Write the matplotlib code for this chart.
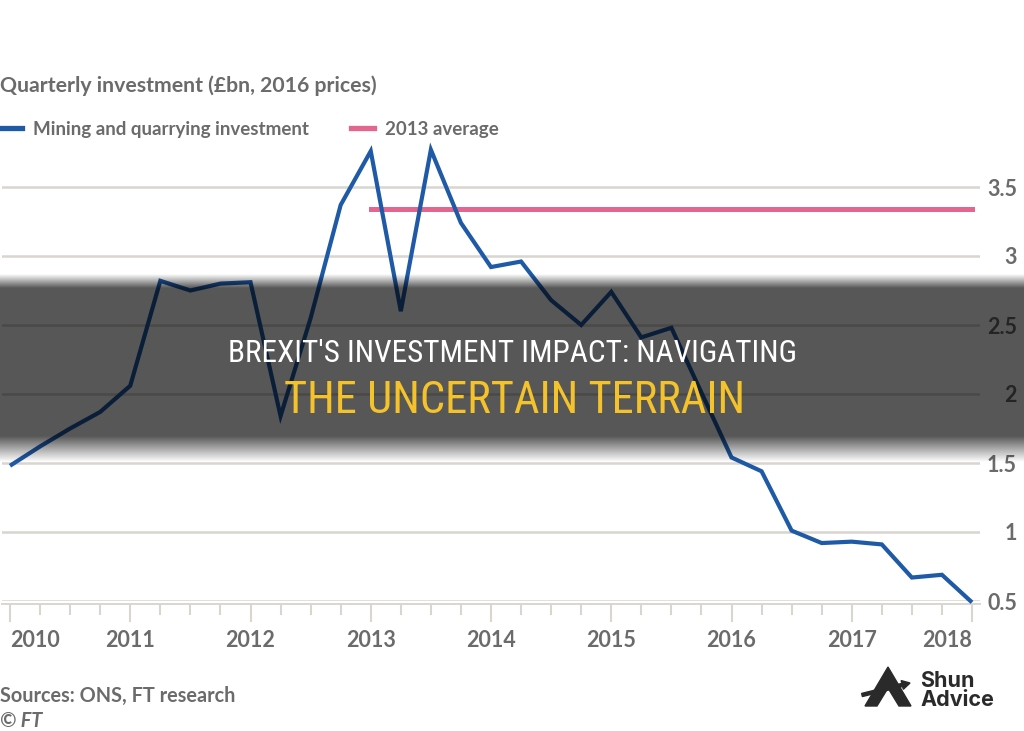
import numpy as np
import matplotlib
matplotlib.use("Agg")
import matplotlib.pyplot as plt
from matplotlib import font_manager as fm
from matplotlib.lines import Line2D
from matplotlib.patches import Polygon, FancyArrow

# ---------------- data ----------------
quarters = ["2010Q1", "2010Q2", "2010Q3", "2010Q4",
            "2011Q1", "2011Q2", "2011Q3", "2011Q4",
            "2012Q1", "2012Q2", "2012Q3", "2012Q4",
            "2013Q1", "2013Q2", "2013Q3", "2013Q4",
            "2014Q1", "2014Q2", "2014Q3", "2014Q4",
            "2015Q1", "2015Q2", "2015Q3", "2015Q4",
            "2016Q1", "2016Q2", "2016Q3", "2016Q4",
            "2017Q1", "2017Q2", "2017Q3", "2017Q4",
            "2018Q1"]
mining = [1.48, 1.62, 1.75, 1.87,
          2.06, 2.82, 2.75, 2.80,
          2.81, 1.84, 2.55, 3.37,
          3.76, 2.60, 3.77, 3.24,
          2.92, 2.96, 2.68, 2.50,
          2.74, 2.41, 2.48, 2.01,
          1.54, 1.44, 1.01, 0.92,
          0.93, 0.91, 0.67, 0.69,
          0.49]
avg_2013 = 3.34
avg_span = [2013.0, 2018.0]
year_labels = ["2010", "2011", "2012", "2013", "2014", "2015", "2016", "2017", "2018"]
y_ticks = [0.5, 1, 1.5, 2, 2.5, 3, 3.5]
y_labels = ["0.5", "1", "1.5", "2", "2.5", "3", "3.5"]

title = "Quarterly investment (£bn, 2016 prices)"
legend_labels = ["Mining and quarrying investment", "2013 average"]
source = "Sources: ONS, FT research"
credit = "© FT"
band_line1 = "BREXIT'S INVESTMENT IMPACT: NAVIGATING"
band_line2 = "THE UNCERTAIN TERRAIN"

x = [int(q[:4]) + (int(q[-1]) - 1) / 4 for q in quarters]
years = [int(y) for y in year_labels]

# ---------------- style ----------------
W, H = 1024, 731
BLUE = "#1f5aa6"
PINK = "#e3668f"
GRID = "#d9d5cf"
TXT = "#6b6b6b"
avail = {f.name for f in fm.fontManager.ttflist}
FONT = "Lato" if "Lato" in avail else "DejaVu Sans"
NARROW = next((f for f in ["Liberation Sans Narrow", "Roboto Condensed", "Open Sans Condensed"]
               if f in avail), None)

fig = plt.figure(figsize=(W / 100, H / 100), dpi=100)
fig.patch.set_facecolor("white")


def fy(py):
    return 1 - py / H


def fx(px):
    return px / W


# chart axes: x 2010.0 -> px 10, 2018.0 -> px 972 ; y 0.5 -> px 601, 3.5 -> px 187
ppu_x = (972 - 10) / 8.0
ppu_y = (601 - 187) / 3.0
ax_l, ax_r = 2, 980
ax_b = 601
ax_t = 601 - (3.8 - 0.5) * ppu_y
ax = fig.add_axes([fx(ax_l), fy(ax_b), (ax_r - ax_l) / W, (ax_b - ax_t) / H])
ax.set_facecolor("none")
ax.set_xlim(2010 - (10 - ax_l) / ppu_x, 2018 + (ax_r - 972) / ppu_x)
ax.set_ylim(0.5, 3.8)

for s in ["top", "left", "right"]:
    ax.spines[s].set_visible(False)
ax.spines["bottom"].set_color(GRID)
ax.spines["bottom"].set_linewidth(1.4)
ax.spines["bottom"].set_position(("outward", 1.8))

for yv in y_ticks:
    ax.axhline(yv, color=GRID, lw=1.8, zorder=1)

ax.plot(avg_span, [avg_2013, avg_2013], color=PINK, lw=3.6, solid_capstyle="projecting", zorder=3)
ax.plot(x, mining, color=BLUE, lw=3.0, solid_joinstyle="miter", solid_capstyle="butt",
        zorder=4, clip_on=False)

# x ticks
ax.set_xticks(years)
ax.set_xticks(x, minor=True)
ax.set_xticklabels(year_labels)
ax.tick_params(axis="x", which="major", length=13, width=1.5, color=GRID, pad=6,
               labelsize=15.5, labelcolor=TXT)
ax.tick_params(axis="x", which="minor", length=8, width=1.5, color=GRID)
xl = ax.get_xticklabels()
for lab in xl:
    lab.set_fontfamily(FONT)
    lab.set_fontweight("bold")
xl[0].set_horizontalalignment("left")
xl[-1].set_horizontalalignment("right")

# y ticks on the right
ax.yaxis.tick_right()
ax.set_yticks(y_ticks)
ax.set_yticklabels(y_labels)
ax.tick_params(axis="y", length=0, pad=(1017 - ax_r) * 0.72, labelsize=15.5, labelcolor=TXT)
for lab in ax.get_yticklabels():
    lab.set_horizontalalignment("right")
    lab.set_fontfamily(FONT)
    lab.set_fontweight("bold")

# header texts
fig.text(fx(0), fy(92), title, ha="left", va="baseline", fontsize=15.3, color=TXT,
         fontfamily=FONT, fontweight="bold")
fig.add_artist(Line2D([fx(0), fx(22)], [fy(128), fy(128)], color=BLUE, lw=3.8))
fig.text(fx(33), fy(135), legend_labels[0], ha="left", va="baseline", fontsize=13.5,
         color=TXT, fontfamily=FONT, fontweight="bold")
fig.add_artist(Line2D([fx(351), fx(374)], [fy(128), fy(128)], color=PINK, lw=3.8))
fig.text(fx(385), fy(135), legend_labels[1], ha="left", va="baseline", fontsize=13.5,
         color=TXT, fontfamily=FONT, fontweight="bold")

fig.text(fx(0), fy(702), source, ha="left", va="baseline", fontsize=14.3, color=TXT,
         fontfamily=FONT, fontweight="bold")
fig.text(fx(0), fy(727), credit, ha="left", va="baseline", fontsize=14.3, color=TXT,
         fontfamily=FONT, fontweight="bold", fontstyle="italic")

# ---------------- dark band overlay ----------------
ov = fig.add_axes([0, 0, 1, 1], zorder=10)
ov.set_xlim(0, W)
ov.set_ylim(H, 0)
ov.axis("off")
ov.patch.set_alpha(0)
rows = np.arange(H) + 0.5
alpha = np.interp(rows, [0, 274, 288, 436, 462, H], [0, 0, 0.66, 0.66, 0, 0])
img = np.zeros((H, 1, 4))
img[:, 0, 3] = alpha
ov.imshow(img, extent=[0, W, H, 0], aspect="auto", interpolation="bilinear", zorder=1)

if NARROW:
    kw1 = dict(fontfamily=NARROW)
else:
    kw1 = dict(fontfamily="DejaVu Sans", fontstretch="condensed")
ov.text(513, 362, band_line1, ha="center", va="baseline", fontsize=22.5, color="white",
        zorder=5, **kw1)
ov.text(515, 413, band_line2, ha="center", va="baseline", fontsize=32, color="#f4c22b",
        zorder=5, **kw1)

# logo
LOGO = "#2a2a2a"
ov.add_patch(Polygon([(865, 706), (888, 667), (911, 706), (899, 706), (888, 688), (877, 706)],
                     closed=True, color=LOGO, zorder=5))
ov.add_patch(FancyArrow(862, 695, 48, -12, width=3.2, head_width=9, head_length=8,
                        color=LOGO, zorder=5, length_includes_head=True))
lfont = "Inter" if "Inter" in avail else "DejaVu Sans"
ov.text(920, 687, "Shun", ha="left", va="baseline", fontsize=15.5, color=LOGO,
        fontfamily=lfont, fontweight="bold", zorder=5)
ov.text(920, 706, "Advice", ha="left", va="baseline", fontsize=15.5, color=LOGO,
        fontfamily=lfont, fontweight="bold", zorder=5)

fig.savefig("out.png", dpi=100, facecolor="white")
